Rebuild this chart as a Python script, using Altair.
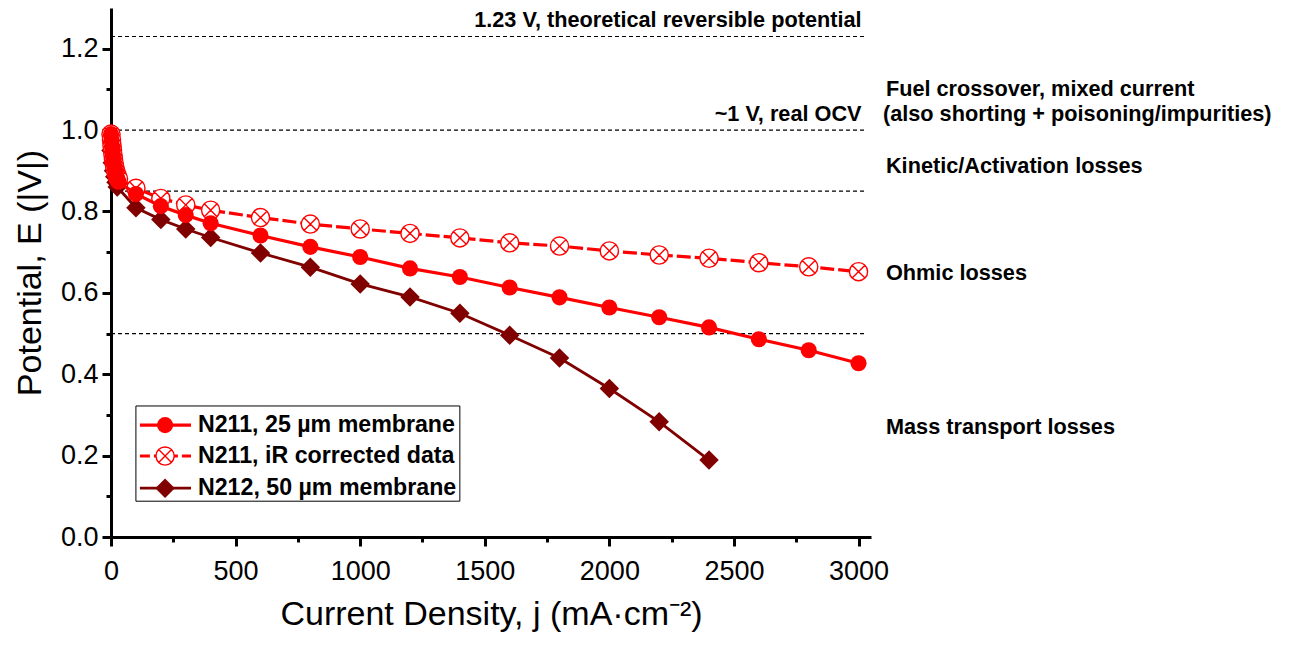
import altair as alt
import pandas as pd

# ---------------- data ----------------
j_n211 = [0, 2, 4, 6, 8, 10, 13, 16, 20, 25, 30, 100, 200, 300, 400, 600, 800, 1000,
          1200, 1400, 1600, 1800, 2000, 2200, 2400, 2600, 2800, 3000]
e_n211 = [0.99, 0.975, 0.96, 0.948, 0.936, 0.925, 0.913, 0.902, 0.892, 0.882, 0.873,
          0.843, 0.813, 0.791, 0.771, 0.741, 0.713, 0.688, 0.660, 0.639, 0.613, 0.589,
          0.564, 0.540, 0.515, 0.486, 0.459, 0.427]

j_ir = [0, 2, 4, 6, 8, 10, 13, 16, 20, 25, 30, 100, 200, 300, 400, 600, 800, 1000,
        1200, 1400, 1600, 1800, 2000, 2200, 2400, 2600, 2800, 3000]
e_ir = [0.99, 0.976, 0.962, 0.95, 0.939, 0.928, 0.917, 0.907, 0.897, 0.888, 0.880,
        0.857, 0.832, 0.816, 0.803, 0.785, 0.769, 0.757, 0.746, 0.735, 0.723, 0.715,
        0.703, 0.693, 0.685, 0.674, 0.664, 0.652]

j_n212 = [0, 5, 10, 15, 20, 25, 100, 200, 300, 400, 600, 800, 1000, 1200, 1400,
          1600, 1800, 2000, 2200, 2400]
e_n212 = [0.95, 0.92, 0.90, 0.885, 0.872, 0.86, 0.809, 0.780, 0.757, 0.736, 0.698,
          0.663, 0.622, 0.590, 0.550, 0.496, 0.440, 0.365, 0.283, 0.189]

series_names = ["N211, 25 µm membrane", "N211, iR corrected data", "N212, 50 µm membrane"]

ref_levels = [1.23, 1.0, 0.85, 0.5]

ann_text = ["1.23 V, theoretical reversible potential", "~1 V, real OCV",
            "Fuel crossover, mixed current", "(also shorting + poisoning/impurities)",
            "Kinetic/Activation losses", "Ohmic losses", "Mass transport losses"]
ann_x = [3012, 3012, 3110, 3098, 3110, 3110, 3110]
ann_y = [1.27, 1.04, 1.10, 1.04, 0.912, 0.649, 0.270]
ann_align = ["right", "right", "left", "left", "left", "left", "left"]

x_ticks = [0, 250, 500, 750, 1000, 1250, 1500, 1750, 2000, 2250, 2500, 2750, 3000]
y_ticks = [0.0, 0.1, 0.2, 0.3, 0.4, 0.5, 0.6, 0.7, 0.8, 0.9, 1.0, 1.1, 1.2]

# legend layout (data coordinates)
leg_box = {"x0": 100, "x1": 1400, "y0": 0.088, "y1": 0.322}
leg_rows = [0.275, 0.199, 0.120]
leg_line = (116, 321)
leg_marker_x = 217
leg_text_x = 349

# ---------------- styles ----------------
RED = "#FF0000"
DARK = "#800000"
FONT = "Liberation Sans"
CROSS_CIRCLE = ("M1,0A1,1,0,1,1,-1,0A1,1,0,1,1,1,0Z "
                "M-0.7071,-0.7071L0.7071,0.7071M-0.7071,0.7071L0.7071,-0.7071")

xscale = alt.Scale(domain=[0, 3050], nice=False, zero=False)
yscale = alt.Scale(domain=[0, 1.3], nice=False, zero=False)

x_axis = alt.Axis(
    title="Current Density, j (mA·cm⁻²)", values=x_ticks, grid=False,
    labelExpr="datum.value % 500 === 0 ? format(datum.value, 'd') : ''",
    domainColor="black", domainWidth=3, tickColor="black", tickWidth=3,
    tickSize={"condition": {"test": "datum.value % 500 === 0", "value": 9}, "value": 5},
    labelFont=FONT, labelFontSize=27, labelColor="black", labelPadding=12,
    titleFont=FONT, titleFontSize=34, titleFontWeight="normal", titleColor="black",
    titlePadding=13, labelFlush=False, labelOverlap=False,
)
y_axis = alt.Axis(
    title="Potential, E (|V|)", values=y_ticks, grid=False,
    labelExpr="round(datum.value * 10) % 2 === 0 ? format(datum.value, '.1f') : ''",
    domainColor="black", domainWidth=3, tickColor="black", tickWidth=3,
    tickSize={"condition": {"test": "round(datum.value * 10) % 2 === 0", "value": 9},
              "value": 5},
    labelFont=FONT, labelFontSize=27, labelColor="black", labelPadding=4,
    titleFont=FONT, titleFontSize=34, titleFontWeight="normal", titleColor="black",
    titlePadding=13, labelFlush=False, labelOverlap=False,
)

# ---------------- data frames ----------------
df_n211 = pd.DataFrame({"j": j_n211, "E": e_n211})
df_ir = pd.DataFrame({"j": j_ir, "E": e_ir})
df_n212 = pd.DataFrame({"j": j_n212, "E": e_n212})
df_ref = pd.DataFrame({"E": ref_levels, "j0": [0] * len(ref_levels),
                       "j1": [3030] * len(ref_levels)})
df_ann = pd.DataFrame({"t": ann_text, "x": ann_x, "y": ann_y, "a": ann_align})


def enc(chart):
    return chart.encode(x=alt.X("j:Q"), y=alt.Y("E:Q"))


CIRCLE_SIZE = 260
DIAMOND_SIZE = 380
CROSS_SIZE = 330

layers = []

# reference dashed lines
layers.append(
    alt.Chart(df_ref).mark_rule(color="black", strokeWidth=1.2, strokeDash=[4, 3]).encode(
        x=alt.X("j0:Q", scale=xscale, axis=x_axis), x2="j1:Q",
        y=alt.Y("E:Q", scale=yscale, axis=y_axis))
)

# N212
layers.append(enc(alt.Chart(df_n212).mark_line(color=DARK, strokeWidth=2.8)))
layers.append(enc(alt.Chart(df_n212).mark_point(shape="diamond", filled=True, color=DARK,
                                                size=DIAMOND_SIZE, opacity=1)))
# iR corrected
layers.append(enc(alt.Chart(df_ir).mark_line(color=RED, strokeWidth=3.2, strokeDash=[14, 4])))
layers.append(enc(alt.Chart(df_ir).mark_point(shape=CROSS_CIRCLE, filled=True, fill="white",
                                              stroke=RED, strokeWidth=1.4, size=CROSS_SIZE,
                                              opacity=1, fillOpacity=1)))
# N211
layers.append(enc(alt.Chart(df_n211).mark_line(color=RED, strokeWidth=3.2)))
layers.append(enc(alt.Chart(df_n211).mark_point(shape="circle", filled=True, color=RED,
                                                size=CIRCLE_SIZE, opacity=1)))

# annotations
for a in ["left", "right"]:
    layers.append(
        alt.Chart(df_ann[df_ann["a"] == a]).mark_text(
            align=a, baseline="middle", font=FONT, fontWeight="bold", fontSize=21.7,
            color="black").encode(x="x:Q", y="y:Q", text="t:N")
    )

# legend box
df_box = pd.DataFrame([leg_box])
layers.append(
    alt.Chart(df_box).mark_rect(fill="white", stroke="black", strokeWidth=1).encode(
        x="x0:Q", x2="x1:Q", y="y0:Q", y2="y1:Q")
)
leg_styles = [
    dict(line=dict(color=RED, strokeWidth=3.2),
         point=dict(shape="circle", filled=True, color=RED, size=CIRCLE_SIZE, opacity=1)),
    dict(line=dict(color=RED, strokeWidth=3.2, strokeDash=[10, 4]),
         point=dict(shape=CROSS_CIRCLE, filled=True, fill="white", stroke=RED,
                    strokeWidth=1.4, size=CROSS_SIZE, opacity=1)),
    dict(line=dict(color=DARK, strokeWidth=2.8),
         point=dict(shape="diamond", filled=True, color=DARK, size=DIAMOND_SIZE, opacity=1)),
]
for name, yv, st in zip(series_names, leg_rows, leg_styles):
    d = pd.DataFrame({"x0": [leg_line[0]], "x1": [leg_line[1]], "xm": [leg_marker_x],
                      "xt": [leg_text_x], "y": [yv], "t": [name]})
    layers.append(alt.Chart(d).mark_rule(**st["line"]).encode(x="x0:Q", x2="x1:Q", y="y:Q"))
    layers.append(alt.Chart(d).mark_point(**st["point"]).encode(x="xm:Q", y="y:Q"))
    layers.append(alt.Chart(d).mark_text(align="left", baseline="middle", font=FONT,
                                         fontWeight="bold", fontSize=23.2, color="black")
                  .encode(x="xt:Q", y="y:Q", text="t:N"))

chart = alt.layer(*layers).properties(
    width=760, height=529,
    autosize=alt.AutoSizeParams(type="none"),
    padding={"left": 111, "top": 8, "right": 433, "bottom": 108},
    background="white",
).configure_view(stroke=None)

chart.save("out.html", embed_options={"renderer": "svg", "actions": False})
